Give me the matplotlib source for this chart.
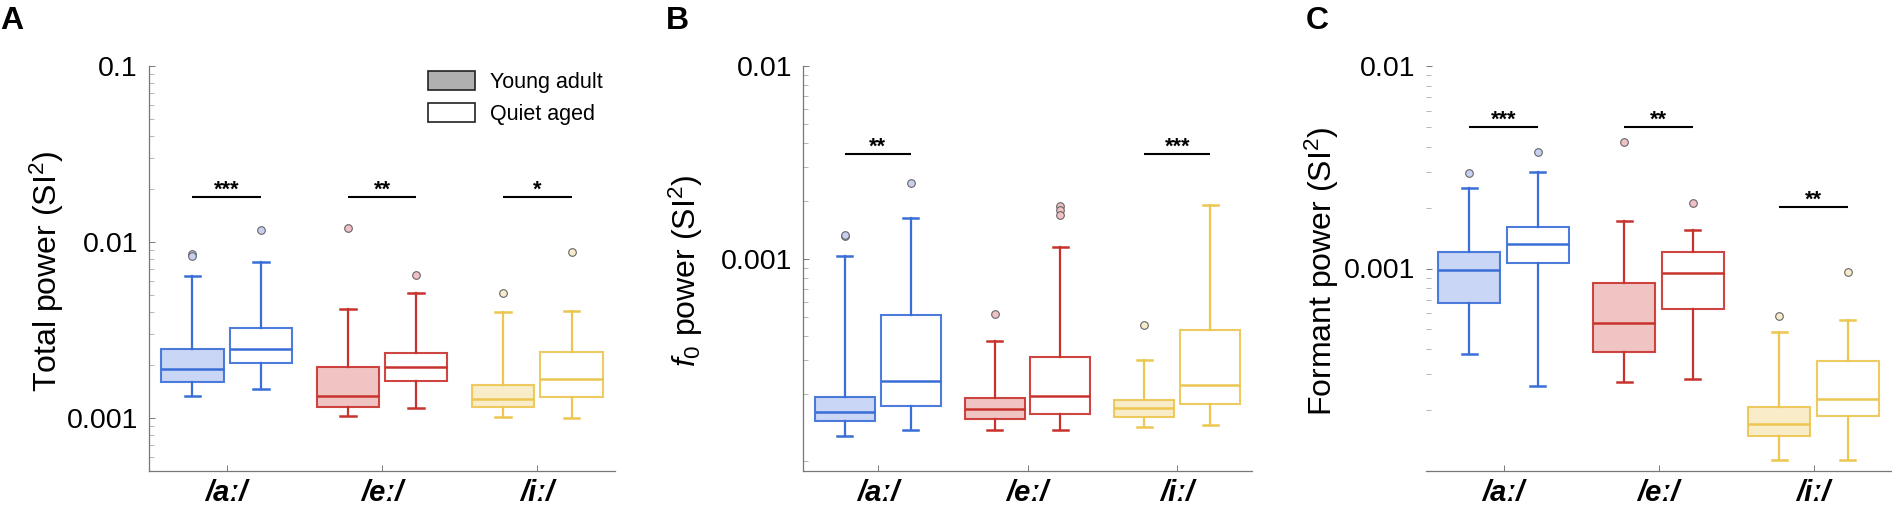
"""Three-panel log-scale boxplots: total, f0 and formant power per vowel, young adult vs quiet aged."""
import numpy as np
import matplotlib; matplotlib.use("Agg")
import matplotlib.pyplot as plt
from matplotlib.patches import Patch
from matplotlib.ticker import LogLocator, NullFormatter

plt.rcParams['font.family'] = ['Liberation Sans', 'DejaVu Sans']
plt.rcParams['mathtext.fontset'] = 'custom'
plt.rcParams['mathtext.rm'] = 'Liberation Sans'
plt.rcParams['mathtext.it'] = 'Liberation Sans:italic'

vowels = ['/aː/', '/eː/', '/iː/']
groups = ['Young adult', 'Quiet aged']
edge_cols = ['#3a6ed7', '#c8322d', '#ecc650']
face_cols = ['#c3d2f5', '#f0bebe', '#f9ebc4']
flier_cols = ['#c8d0f0', '#f0c0c4', '#f6eccb']

# stats per vowel: [young, quiet]
# A: total power
tot_med = [[0.00191, 0.00248], [0.00133, 0.00195], [0.00129, 0.00166]]
tot_q1 = [[0.00161, 0.00206], [0.00115, 0.00162], [0.00115, 0.00131]]
tot_q3 = [[0.00248, 0.00324], [0.00196, 0.00235], [0.00155, 0.00237]]
tot_lo = [[0.00133, 0.00147], [0.00103, 0.00114], [0.00101, 0.000996]]
tot_hi = [[0.00637, 0.00771], [0.00418, 0.00513], [0.00400, 0.00405]]
tot_out = [[[0.00853, 0.00828], [0.01172]], [[0.01208], [0.00651]], [[0.00510], [0.00875]]]
tot_sig = ['***', '**', '*']
tot_sig_y = [0.0181, 0.0181, 0.0181]

# B: f0 power
f0_med = [[1.62e-4, 2.35e-4], [1.67e-4, 1.95e-4], [1.70e-4, 2.24e-4]]
f0_q1 = [[1.46e-4, 1.73e-4], [1.48e-4, 1.57e-4], [1.52e-4, 1.78e-4]]
f0_q3 = [[1.93e-4, 5.12e-4], [1.90e-4, 3.10e-4], [1.86e-4, 4.31e-4]]
f0_lo = [[1.21e-4, 1.31e-4], [1.31e-4, 1.31e-4], [1.35e-4, 1.38e-4]]
f0_hi = [[1.04e-3, 1.63e-3], [3.79e-4, 1.15e-3], [3.02e-4, 1.91e-3]]
f0_out = [[[1.31e-3, 1.33e-3], [2.47e-3]], [[5.18e-4], [1.88e-3, 1.80e-3, 1.69e-3]], [[4.55e-4], []]]
f0_sig = ['**', '', '***']
f0_sig_y = [3.51e-3, None, 3.51e-3]

# C: formant power
fm_med = [[9.88e-4, 1.32e-3], [5.36e-4, 9.54e-4], [1.70e-4, 2.26e-4]]
fm_q1 = [[6.77e-4, 1.06e-3], [3.85e-4, 6.30e-4], [1.49e-4, 1.87e-4]]
fm_q3 = [[1.20e-3, 1.61e-3], [8.49e-4, 1.21e-3], [2.07e-4, 3.49e-4]]
fm_lo = [[3.79e-4, 2.64e-4], [2.74e-4, 2.84e-4], [1.13e-4, 1.13e-4]]
fm_hi = [[2.49e-3, 3.00e-3], [1.71e-3, 1.55e-3], [4.85e-4, 5.58e-4]]
fm_out = [[[2.96e-3], [3.77e-3]], [[4.20e-3], [2.11e-3]], [[5.86e-4], [9.59e-4]]]
fm_sig = ['***', '**', '**']
fm_sig_y = [5.0e-3, 5.0e-3, 2.01e-3]

W, H = 1892, 508
fig = plt.figure(figsize=(W / 100, H / 100), dpi=100)
OFF, BW = 0.22, 0.40


def panel(rect, med, q1, q3, lo, hi, out, sig, sig_y, ylim, yticks, ylab, ylab_x, letter, letter_x, left_spine=True):
    ax = fig.add_axes([rect[0] / W, 37 / H, (rect[1] - rect[0]) / W, 405 / H])
    ax.set_yscale('log')
    for i in range(3):
        for g in range(2):
            st = dict(med=med[i][g], q1=q1[i][g], q3=q3[i][g], whislo=lo[i][g], whishi=hi[i][g], fliers=out[i][g])
            x = i + 1 + (-OFF if g == 0 else OFF)
            c = edge_cols[i]
            ax.bxp([st], positions=[x], widths=BW, capwidths=0.1, patch_artist=True, showfliers=True,
                   boxprops=dict(facecolor=face_cols[i] if g == 0 else 'white', edgecolor=c, linewidth=1.5, alpha=0.9),
                   medianprops=dict(color=c, linewidth=1.8),
                   whiskerprops=dict(color=c, linewidth=1.6), capprops=dict(color=c, linewidth=1.8),
                   flierprops=dict(marker='o', markersize=5.5, markerfacecolor=flier_cols[i],
                                   markeredgecolor='#666666', markeredgewidth=0.8))
        if sig[i]:
            ax.plot([i + 1 - OFF, i + 1 + OFF], [sig_y[i]] * 2, color='black', lw=1.5, solid_capstyle='butt')
            ax.annotate(sig[i], (i + 1, sig_y[i]), xytext=(0, 1), textcoords='offset points',
                        ha='center', va='baseline', fontsize=15.5, fontweight='bold')
    ax.set_xlim(0.5, 3.5)
    ax.set_ylim(*ylim)
    ax.set_xticks([1, 2, 3], vowels, fontsize=21, fontweight='bold', style='italic')
    ax.set_yticks(yticks, [f'{t:g}' for t in yticks], fontsize=20.5)
    ax.yaxis.set_minor_locator(LogLocator(base=10, subs=np.arange(2, 10)))
    ax.yaxis.set_minor_formatter(NullFormatter())
    ax.tick_params(which='major', direction='in', length=4, width=0.7, color='#777777')
    ax.tick_params(which='minor', direction='in', length=3.5, width=0.6, color='#aaaaaa')
    ax.tick_params(axis='y', pad=8)
    ax.tick_params(axis='x', pad=6)
    for s in ('top', 'right'):
        ax.spines[s].set_visible(False)
    ax.spines['left'].set_visible(left_spine)
    for s in ('left', 'bottom'):
        ax.spines[s].set_color('#777777'); ax.spines[s].set_linewidth(0.9)
    fig.text(ylab_x / W, 1 - 271 / H, ylab, rotation=90, ha='center', va='center', fontsize=23)
    fig.text(letter_x / W, 1 - 6 / H, letter, ha='left', va='top', fontsize=23, fontweight='bold')
    return ax


axA = panel((149, 615), tot_med, tot_q1, tot_q3, tot_lo, tot_hi, tot_out, tot_sig, tot_sig_y,
            (0.0005, 0.1), [0.001, 0.01, 0.1], 'Total power (SI$^2$)', 47, 'A', 0)
axB = panel((803, 1252), f0_med, f0_q1, f0_q3, f0_lo, f0_hi, f0_out, f0_sig, f0_sig_y,
            (8e-5, 0.01), [0.001, 0.01], r'$\mathit{f_0}$ power (SI$^2$)', 686, 'B', 666)
axC = panel((1426, 1891), fm_med, fm_q1, fm_q3, fm_lo, fm_hi, fm_out, fm_sig, fm_sig_y,
            (1e-4, 0.01), [0.001, 0.01], 'Formant power (SI$^2$)', 1322, 'C', 1306, left_spine=False)

handles = [Patch(facecolor='#b0b0b0', edgecolor='#222222', linewidth=1.2),
           Patch(facecolor='white', edgecolor='#222222', linewidth=1.2)]
fig.legend(handles, groups, loc='upper left', bbox_to_anchor=(428 / W, 1 - 71 / H), frameon=False,
           fontsize=15.5, handlelength=2.2, handleheight=0.95, handletextpad=0.7, labelspacing=0.5,
           borderpad=0, borderaxespad=0)

fig.savefig('out.png', dpi=100)
print('WROTE out.png')
